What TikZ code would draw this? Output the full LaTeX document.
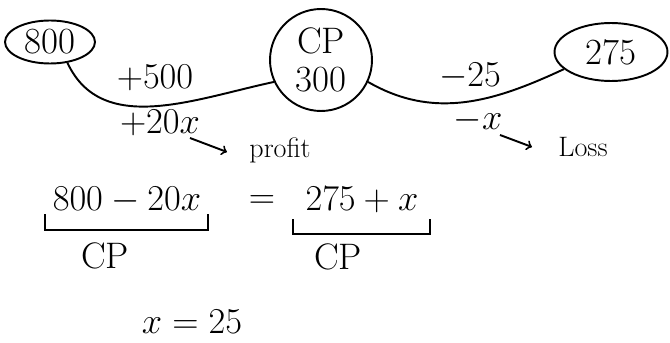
\documentclass[tikz,border=0pt]{standalone}
\usetikzlibrary{shapes.geometric}
\begin{document}
\begin{tikzpicture}[>=to, x=0.02cm, y=0.02cm, line width=1.1pt, font=\fontsize{21}{23}\selectfont]
	\tikzset{small/.style={font=\fontsize{16}{18}\selectfont}}
	\useasboundingbox (0,0) rectangle (670,342);
	% the three prices
	\node[draw, ellipse, minimum width=1.8cm, minimum height=0.86cm, inner sep=0pt] (s800) at (50,300) {800};
	\node[draw, circle, minimum size=2.04cm, align=center, inner sep=0pt] (cp) at (321,282) {CP\\[-1pt]300};
	\node[draw, ellipse, minimum width=2.26cm, minimum height=1.16cm, inner sep=0pt] (s275) at (611,290) {275};
	\draw (s800.-50) to[out=-65, in=192] (cp.205);
	\draw (cp.-25) to[out=-30, in=205] (s275.200);
	
	% profit side
	\node (up1) at (155,264) {$+500$};
	\node (up2) at (160,219) {$+20x$};
	\node[small] (profit) at (280,192) {profit};
	\coordinate (a1) at (190,204);
	\coordinate (a2) at (227,190);
	\draw[->] (a1) -- (a2);
	
	% loss side
	\node (dn1) at (470,266) {$-25$};
	\node (dn2) at (478,222) {$-x$};
	\node[small] (loss) at (583,195) {Loss};
	\coordinate (b1) at (500,207);
	\coordinate (b2) at (532,195);
	\draw[->] (b1) -- (b2);
	
	% equation
	\node (lhs) at (127,142) {$800-20x$};
	\node (eq) at (262,140) {$=$};
	\node (rhs) at (362,142) {$275+x$};
	\draw (45,128) -- (45,112) -- (208,112) -- (208,128);
	\draw (293,123) -- (293,108) -- (430,108) -- (430,123);
	\node (cpl) at (105,86) {CP};
	\node (cpr) at (338,85) {CP};
	\node (res) at (192,20) {$x=25$};
\end{tikzpicture}
\end{document}
